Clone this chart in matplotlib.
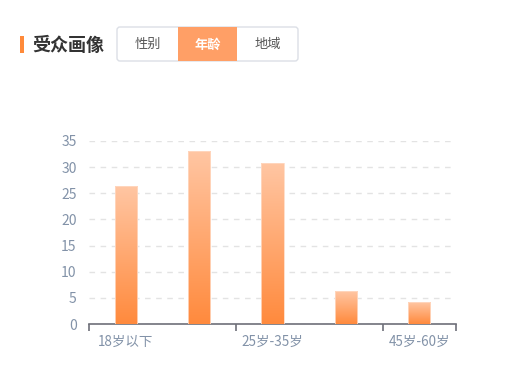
import matplotlib
matplotlib.use("Agg")
import matplotlib.pyplot as plt
import numpy as np
from matplotlib.patches import Rectangle, FancyBboxPatch
from matplotlib.colors import LinearSegmentedColormap

plt.rcParams['font.family'] = ['Noto Sans CJK SC', 'DejaVu Sans']

categories = ["18岁以下", "18岁-25岁", "25岁-35岁", "35岁-45岁", "45岁-60岁"]
values = [26.3, 33.0, 30.7, 6.3, 4.2]
yticks = [0, 5, 10, 15, 20, 25, 30, 35]
tabs = ["性别", "年龄", "地域"]
title = "受众画像"

W, H = 520, 376
fig = plt.figure(figsize=(W / 100, H / 100), dpi=100)
fig.patch.set_facecolor("white")

# axes placement in pixels
x0, x1 = 89, 456
ytop, ybot = 141, 324
ax = fig.add_axes([x0 / W, (H - ybot) / H, (x1 - x0) / W, (ybot - ytop) / H])

cmap = LinearSegmentedColormap.from_list("g", ["#FF8A3D", "#FFC6A3"])
grad = np.linspace(0, 1, 256).reshape(-1, 1)
bw = 0.3
for i, v in enumerate(values):
    ax.imshow(grad, extent=[i - bw / 2, i + bw / 2, 0, v], origin="lower",
              cmap=cmap, aspect="auto", zorder=3)
    ax.add_patch(Rectangle((i - bw / 2, 0), bw, v, fill=False,
                           edgecolor="#FFD9C2", linewidth=0.6, zorder=4))

ax.set_xlim(-0.5, len(categories) - 0.5)
ax.set_ylim(0, 35)
ax.set_yticks(yticks)
ax.yaxis.grid(True, color="#E3E3E3", linestyle=(0, (4, 4)), linewidth=1)
ax.set_axisbelow(True)

for s in ["top", "right", "left"]:
    ax.spines[s].set_visible(False)
ax.spines["bottom"].set_color("#6E7079")
ax.spines["bottom"].set_linewidth(1.2)

ax.tick_params(axis="y", length=0, labelsize=10, labelcolor="#8292A8", pad=9)
ax.set_xticks([0, 2, 4])
ax.set_xticklabels([categories[0], categories[2], categories[4]])
ax.tick_params(axis="x", which="major", length=0, labelsize=9.7,
               labelcolor="#8292A8", pad=8)
ax.set_xticks([-0.5, 1.5, 3.5, 4.5], minor=True)
ax.tick_params(axis="x", which="minor", length=5, color="#6E7079", width=1.2)

# header
tr = fig.dpi_scale_trans
def px(x, y):
    return x / 100, (H - y) / 100

fig.add_artist(Rectangle(px(20, 53), 4 / 100, 17 / 100, transform=tr,
                         facecolor="#FF8A3A", edgecolor="none"))
fig.text(*px(32, 45), title, transform=tr, fontsize=13, fontweight="bold",
         color="#333333", ha="left", va="center")

bx0, bx1, by0, by1 = 117, 298, 27, 61
fig.add_artist(FancyBboxPatch(px(bx0, by1), (bx1 - bx0) / 100, (by1 - by0) / 100,
                              boxstyle="round,pad=0,rounding_size=0.03",
                              transform=tr, facecolor="white",
                              edgecolor="#DCDFE6", linewidth=1))
fig.add_artist(Rectangle(px(178, by1), 59 / 100, (by1 - by0) / 100, transform=tr,
                         facecolor="#FF9F66", edgecolor="none"))
centers = [147.5, 207.5, 267.5]
for t, c in zip(tabs, centers):
    sel = t == "年龄"
    fig.text(*px(c, 44.5), t, transform=tr, fontsize=9.5,
             color="white" if sel else "#555555",
             fontweight="bold" if sel else "normal",
             ha="center", va="center")

fig.savefig("out.png", dpi=100, facecolor="white")
